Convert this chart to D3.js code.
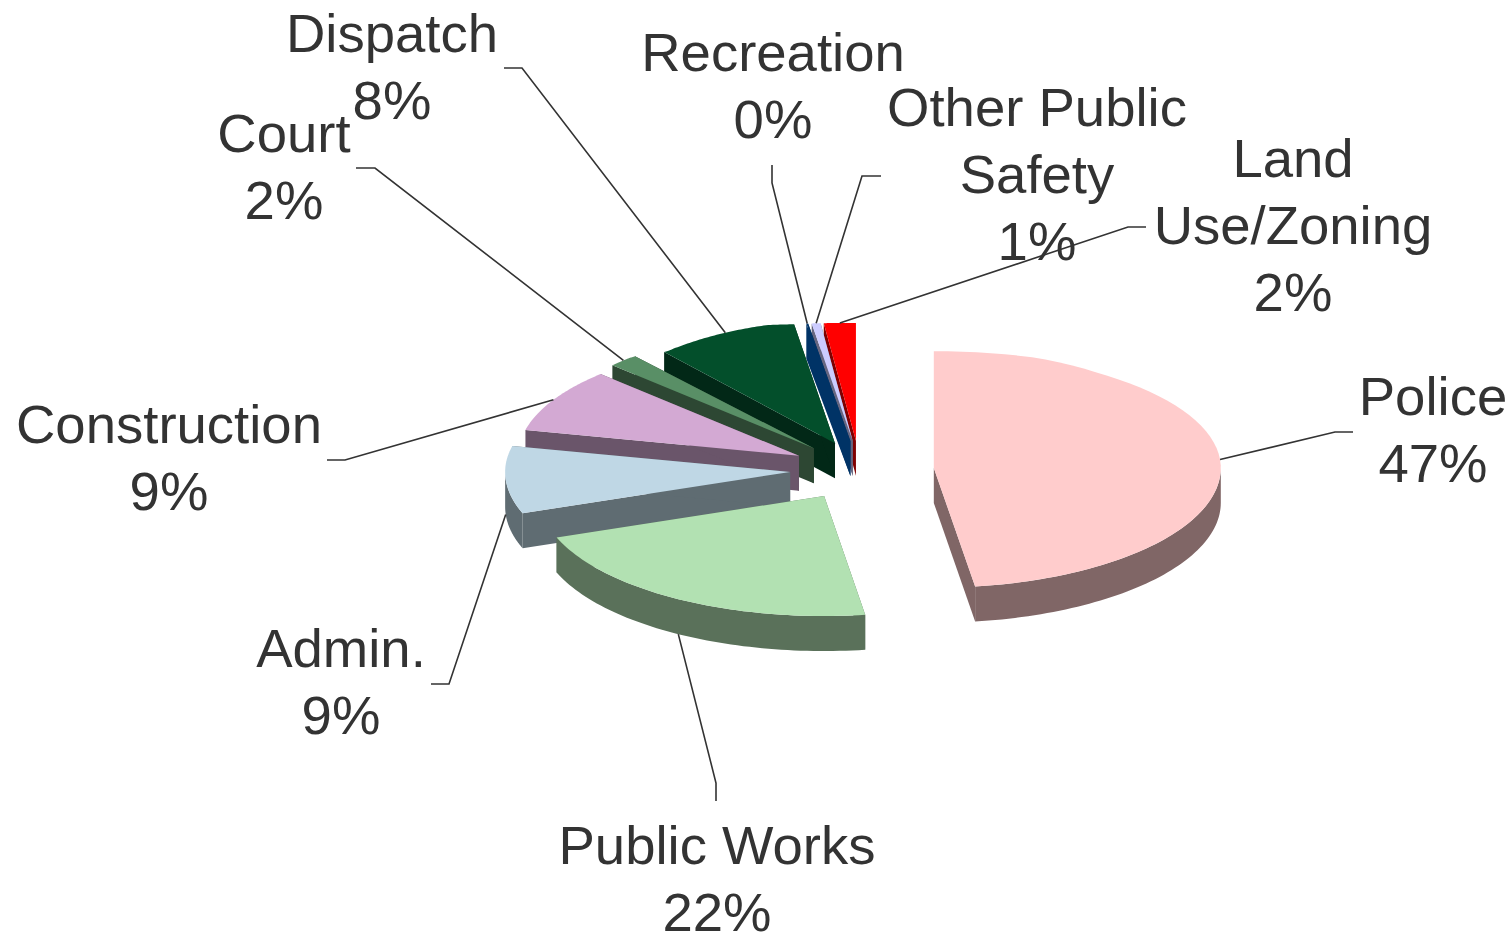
<!DOCTYPE html>
<html><head><meta charset="utf-8">
<script src="https://cdnjs.cloudflare.com/ajax/libs/d3/7.8.5/d3.min.js"></script>
<style>html,body{margin:0;padding:0;background:#fff}svg{display:block}</style>
</head><body><svg id="c" width="1511" height="939"></svg>
<script>
// ---- data, clockwise from 12 o'clock ----
const categories = ["Police","Public Works","Admin.","Construction","Court","Dispatch","Recreation","Other Public Safety","Land Use/Zoning"];
const values     = [47.7, 21.7, 9.2, 8.9, 1.7, 8.4, 0.1, 0.5, 1.8];
const pctLabels  = ["47%","22%","9%","9%","2%","8%","0%","1%","2%"];
const labelLines = [["Police"],["Public Works"],["Admin."],["Construction"],["Court"],["Dispatch"],["Recreation"],["Other Public","Safety"],["Land","Use/Zoning"]];
const topColors  = ["#ffcccc","#b2e1b2","#bfd7e5","#d3a9d3","#598f66","#034f2b","#003366","#ccccff","#ff0000"];
const sideColors = ["#806666","#5a715a","#5f6c72","#6a556a","#2d4733","#022817","#003366","#666680","#800000"];

// ---- layout ----
const drawOrder = [8,7,6,5,4,3,2,1,0];
const explode = 0.2526, depth = 35, fontSize = 54.5, lineH = 67;
const radiusX = [1.007,1,1,0.985,1,0.955,1.03,1,1];
const nudgeX  = [0,-1,0,0,0,2,-1,0,-2];
const labelX  = [1433,717,341,169,284,392,773,1037,1293];
const labelY  = [415,864,667,443,152,52,71,126,177];
const kneeX   = [1335,716,449,345,375,522,772,862,1128];
const kneeY   = [432,783,684,460,168,68,183,176,227];
const tailX   = [1353,716,431,327,356,504,772,881,1146];
const tailY   = [432,801,684,460,168,68,165,176,227];

const px = d3.scaleLinear().domain([-1,1]).range([862-285,862+285]);
const py = d3.scaleLinear().domain([-1.25,-1.2,-1.02,-0.95,-0.83,0,1]).range([470-147,470-145,470-119,470-112,470-96,470,470+120]);
const svg = d3.select("#c");
const line = d3.line().x(d=>d[0]).y(d=>d[1]);
const pie = d3.pie().sort(null).value(d=>d)(values);

function pt(i,a,r,z){
  const s=pie[i], m=(s.startAngle+s.endAngle)/2;
  const ux=explode*Math.sin(m)+r*radiusX[i]*Math.sin(a), uy=-explode*Math.cos(m)-r*Math.cos(a);
  return [px(ux)+nudgeX[i], py(uy)+z];
}
function arcPts(i,a0,a1,z){
  return d3.range(0,61).map(k=>pt(i,a0+(a1-a0)*k/60,1,z));
}
const H=Math.PI/2;
drawOrder.forEach(i=>{
  const s=pie[i], g=svg.append("g").attr("class","slice");
  [s.startAngle,s.endAngle].forEach(a=>{
    g.append("path").attr("fill",sideColors[i])
     .attr("d",line([pt(i,a,0,0),pt(i,a,1,0),pt(i,a,1,depth),pt(i,a,0,depth)])+"Z");
  });
  const a0=Math.max(s.startAngle,H), a1=Math.min(s.endAngle,3*H);
  if(a1>a0){
    g.append("path").attr("fill",sideColors[i])
     .attr("d",line(arcPts(i,a0,a1,0).concat(arcPts(i,a0,a1,depth).reverse()))+"Z");
  }
  g.append("path").attr("fill",topColors[i])
   .attr("d",line([pt(i,s.startAngle,0,0)].concat(arcPts(i,s.startAngle,s.endAngle,0)))+"Z");
});

// leaders
categories.forEach((c,i)=>{
  const s=pie[i], m=(s.startAngle+s.endAngle)/2;
  const front=Math.cos(m)<-0.05 || (m>H*2.6 && m<H*3.1);
  const st=pt(i,m,1,front?depth:0);
  svg.append("path").attr("fill","none").attr("stroke","#333").attr("stroke-width",1.6)
     .attr("d",line([st,[kneeX[i],kneeY[i]],[tailX[i],tailY[i]]]));
});
// labels
categories.forEach((c,i)=>{
  const t=svg.append("text").attr("text-anchor","middle").attr("fill","#333")
    .attr("font-family","'Liberation Sans',Arial,sans-serif").attr("font-size",fontSize);
  labelLines[i].concat([pctLabels[i]]).forEach((l,k)=>{
    t.append("tspan").attr("x",labelX[i]).attr("y",labelY[i]+k*lineH).text(l);
  });
});
</script></body></html>
